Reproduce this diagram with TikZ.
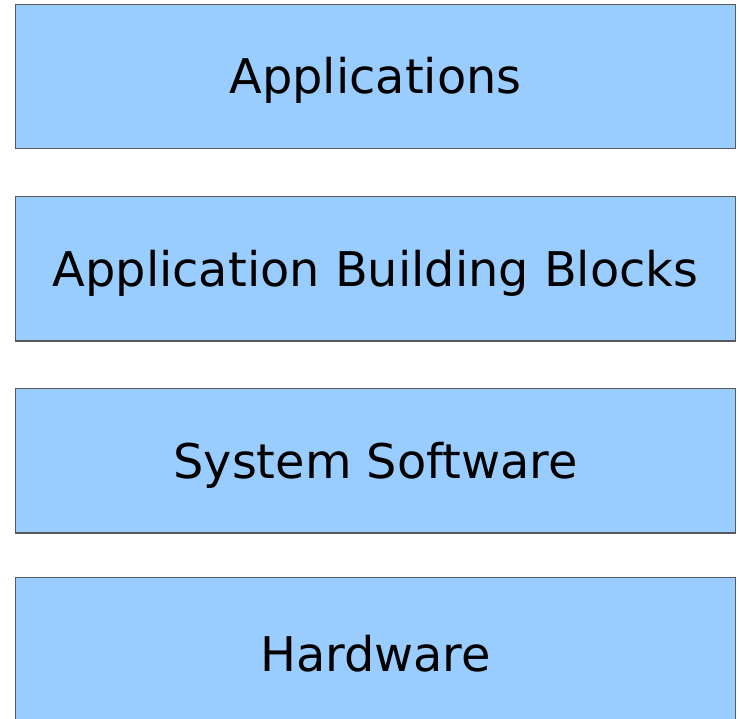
\documentclass[tikz,border=0pt]{standalone}
\usepackage{fontspec}
\setmainfont{DejaVu Sans}
\begin{document}
\begin{tikzpicture}[x=1pt,y=-1pt,
  layer/.style={draw=black!65, line width=1.4pt, fill=layerblue,
    minimum width=720pt, minimum height=144.3pt, inner sep=0pt},
  caption/.style={font=\fontsize{47.8}{57}\selectfont, inner sep=0pt},
]
\definecolor{layerblue}{HTML}{99CCFF}
\useasboundingbox (0,0) rectangle (740,719);
\clip (0,0) rectangle (740,719);
% stacked layers, top to bottom
\node[layer] (apps) at (375.5,76.6) {};
\node[caption] (appsT) at ([yshift=-4pt]apps.center) {Applications};
\node[layer] (blocks) at (375.5,268.85) {};
\node[caption] (blocksT) at ([yshift=-4pt]blocks.center) {Application Building Blocks};
\node[layer] (syssw) at (375.5,460.85) {};
\node[caption] (sysswT) at ([yshift=-4pt]syssw.center) {System Software};
\node[layer] (hw) at (375.5,649.85) {};
\node[caption] (hwT) at ([yshift=-4pt]hw.center) {Hardware};
\end{tikzpicture}
\end{document}
